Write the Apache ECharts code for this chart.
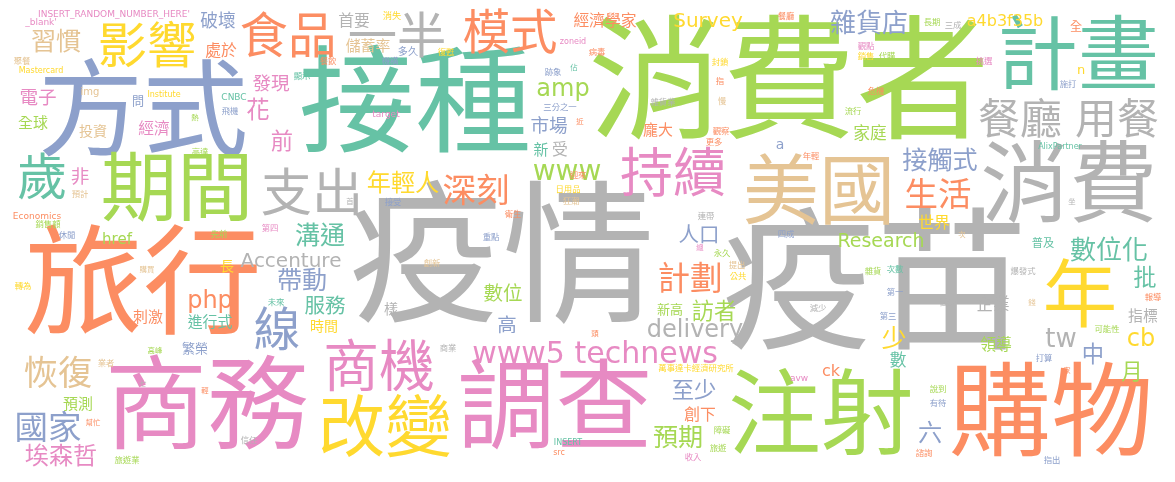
<!DOCTYPE html>
<html>
<head>
<meta charset="utf-8">
<title>詞雲</title>
<script src="https://cdn.jsdelivr.net/npm/echarts@6/dist/echarts.min.js"></script>
<style>
  html, body { margin: 0; padding: 0; background: #fff; }
  #main { width: 1175px; height: 482px; }
</style>
</head>
<body>
<div id="main"></div>
<script>
// 每一筆: [詞, 權重, x, y, 色組]  (x, y 為畫布座標軸上的位置)
var bigWords = [
    ['疫情', 165, 502, 270, 'R'],
    ['疫苗', 165, 875, 297, 'R'],
    ['消費者', 144, 789, 93, 'L'],
    ['旅行', 128, 143, 294, 'O'],
    ['接種', 125, 415, 113, 'G'],
    ['方式', 113, 143, 120, 'B'],
    ['商務', 110, 207, 414, 'P'],
    ['購物', 110, 1051, 421, 'O'],
    ['調查', 105, 555, 416, 'P'],
    ['注射', 100, 821, 423, 'L'],
    ['消費', 95, 1069, 192, 'R'],
    ['計畫', 87, 1078, 62, 'G'],
    ['美國', 82, 819, 198, 'T'],
    ['期間', 82, 177, 195, 'L'],
    ['年', 80, 1080, 302, 'Y'],
    ['改變', 72, 385, 434, 'Y'],
    ['商機', 60, 379, 372, 'P']
];

var midWords = [
    ['持續', 57, 673, 178, 'P'],
    ['支出', 55, 312, 198, 'R'],
    ['歲', 54, 42, 182, 'G'],
    ['影響', 53, 147, 50, 'Y'],
    ['一半', 53, 397, 40, 'R'],
    ['食品', 52, 288, 40, 'O'],
    ['模式', 51, 510, 37, 'O'],
    ['線', 50, 277, 334, 'B'],
    ['餐廳', 45, 1020, 123, 'R'],
    ['用餐', 45, 1117, 123, 'R'],
    ['恢復', 37, 58, 376, 'T'],
    ['深刻', 36, 476, 193, 'O'],
    ['生活', 36, 938, 197, 'O'],
    ['國家', 36, 48, 430, 'B'],
    ['計劃', 35, 690, 282, 'O'],
    ['www5 technews', 30, 595, 355, 'P'],
    ['delivery', 24, 695, 331, 'R'],
    ['雜貨店', 28, 869, 25, 'B'],
    ['數位化', 28, 1109, 252, 'G'],
    ['www', 28, 567, 173, 'L'],
    ['接觸式', 27, 940, 162, 'B'],
    ['習慣', 27, 56, 43, 'T'],
    ['溝通', 27, 320, 237, 'G'],
    ['帶動', 27, 302, 282, 'B'],
    ['預期', 27, 678, 439, 'L'],
    ['少', 27, 894, 340, 'Y'],
    ['tw', 26, 1061, 340, 'R'],
    ['年輕人', 26, 403, 185, 'Y'],
    ['埃森哲', 26, 61, 458, 'P'],
    ['六', 26, 930, 435, 'B'],
    ['花', 25, 258, 112, 'P'],
    ['批', 25, 1145, 280, 'G'],
    ['amp', 24, 563, 90, 'L'],
    ['php', 24, 210, 302, 'O'],
    ['cb', 24, 1141, 340, 'Y'],
    ['前', 24, 282, 143, 'P'],
    ['至少', 24, 694, 392, 'B'],
    ['中', 24, 1093, 356, 'B'],
    ['訪者', 24, 714, 313, 'L'],
    ['月', 23, 1132, 373, 'L'],
    ['服務', 22, 325, 308, 'G'],
    ['人口', 22, 699, 237, 'B'],
    ['數位', 21, 503, 295, 'L'],
    ['高', 21, 507, 327, 'B'],
    ['Accenture', 20, 291, 262, 'R'],
    ['Survey', 20, 708, 22, 'Y'],
    ['發現', 20, 271, 85, 'P'],
    ['電子', 20, 38, 99, 'P'],
    ['非', 20, 80, 178, 'P'],
    ['市場', 20, 549, 127, 'B'],
    ['Research', 19, 881, 242, 'L'],
    ['破壞', 19, 218, 22, 'B'],
    ['數', 18, 898, 362, 'G'],
    ['企業', 18, 993, 306, 'R'],
    ['家庭', 18, 870, 135, 'L'],
    ['世界', 17, 934, 224, 'Y'],
    ['領導', 17, 996, 346, 'L'],
    ['首要', 17, 354, 22, 'R'],
    ['處於', 17, 221, 52, 'O'],
    ['經濟', 17, 154, 130, 'P'],
    ['經濟學家', 17, 605, 22, 'O'],
    ['創下', 17, 700, 416, 'O'],
    ['受', 17, 560, 151, 'R'],
    ['儲蓄率', 16, 368, 47, 'T'],
    ['全球', 16, 33, 124, 'L'],
    ['指標', 16, 1143, 317, 'R'],
    ['龐大', 16, 658, 131, 'O'],
    ['刺激', 16, 148, 318, 'O'],
    ['進行式', 16, 210, 323, 'G'],
    ['預測', 16, 78, 405, 'L'],
    ['新', 16, 541, 151, 'G'],
    ['a4b3f35b', 16, 1005, 22, 'Y'],
    ['ck', 16, 831, 372, 'O'],
    ['投資', 15, 93, 132, 'T'],
    ['時間', 15, 324, 327, 'Y'],
    ['長', 15, 227, 267, 'Y'],
    ['樣', 15, 391, 310, 'R'],
    ['href', 15, 117, 240, 'L'],
    ['新高', 14, 670, 311, 'L'],
    ['繁榮', 14, 195, 350, 'B'],
    ['a', 14, 780, 145, 'B'],
    ['問', 13, 138, 103, 'B'],
    ['n', 13, 1081, 71, 'Y'],
    ['全', 13, 1076, 28, 'O'],
    ['普及', 12, 1043, 244, 'G'],
    ['多久', 11, 408, 52, 'B']
];

var smallWords = [
    ['INSERT_RANDOM_NUMBER_HERE\'', 9, 114, 15, 'P'],
    ['_blank\'', 9, 41, 23, 'P'],
    ['聚餐', 9, 22, 62, 'T'],
    ['Mastercard', 8, 41, 71, 'Y'],
    ['消失', 10, 392, 17, 'Y'],
    ['餐飲', 9, 328, 62, 'O'],
    ['機構', 9, 390, 62, 'B'],
    ['顯示', 9, 302, 77, 'G'],
    ['img', 10, 90, 92, 'T'],
    ['Institute', 8, 164, 95, 'Y'],
    ['CNBC', 9, 234, 98, 'G'],
    ['飛機', 9, 230, 112, 'B'],
    ['target', 9, 386, 115, 'P'],
    ['熱', 8, 195, 118, 'L'],
    ['高達', 9, 200, 153, 'L'],
    ['預計', 9, 80, 195, 'T'],
    ['Economics', 9, 37, 217, 'O'],
    ['銷售額', 9, 48, 225, 'L'],
    ['休閒', 9, 67, 236, 'B'],
    ['首', 8, 350, 202, 'R'],
    ['接受', 9, 393, 203, 'B'],
    ['第四', 9, 270, 229, 'P'],
    ['先前', 9, 219, 235, 'L'],
    ['購買', 8, 147, 270, 'T'],
    ['轉為', 9, 23, 287, 'Y'],
    ['未來', 9, 276, 303, 'G'],
    ['高峰', 8, 155, 351, 'L'],
    ['重點', 9, 491, 238, 'B'],
    ['創新', 9, 432, 264, 'T'],
    ['衛生', 9, 513, 215, 'O'],
    ['日用品', 9, 568, 190, 'Y'],
    ['狂潮', 9, 571, 202, 'T'],
    ['迎來', 9, 578, 176, 'O'],
    ['zoneid', 8, 573, 42, 'P'],
    ['復甦', 9, 446, 53, 'Y'],
    ['病毒', 9, 597, 53, 'O'],
    ['跡象', 9, 553, 73, 'B'],
    ['佔', 8, 574, 68, 'G'],
    ['三分之一', 9, 560, 108, 'B'],
    ['近', 8, 580, 122, 'O'],
    ['雜貨業', 9, 663, 103, 'R'],
    ['封鎖', 9, 720, 63, 'Y'],
    ['指', 9, 720, 82, 'O'],
    ['慢', 9, 722, 102, 'T'],
    ['觀察', 9, 721, 132, 'O'],
    ['更多', 9, 714, 143, 'O'],
    ['餐廳', 9, 786, 17, 'O'],
    ['連帶', 9, 706, 217, 'R'],
    ['四成', 9, 786, 235, 'B'],
    ['次', 8, 962, 235, 'T'],
    ['長期', 9, 932, 23, 'L'],
    ['三成', 9, 953, 26, 'R'],
    ['觀點', 9, 866, 47, 'P'],
    ['銷售', 9, 866, 57, 'Y'],
    ['代購', 9, 887, 57, 'L'],
    ['挑選', 9, 984, 62, 'P'],
    ['施打', 9, 1068, 85, 'B'],
    ['危機', 9, 876, 92, 'O'],
    ['流行', 9, 853, 112, 'L'],
    ['AlixPartner', 8, 1060, 147, 'G'],
    ['年輕', 9, 811, 157, 'O'],
    ['坐', 8, 1072, 202, 'R'],
    ['雜貨', 9, 873, 272, 'L'],
    ['次數', 9, 895, 270, 'G'],
    ['爆發式', 9, 1023, 272, 'R'],
    ['第一', 9, 895, 293, 'B'],
    ['報導', 9, 1153, 298, 'O'],
    ['變少', 9, 948, 303, 'R'],
    ['錢', 8, 1032, 303, 'T'],
    ['減少', 9, 818, 309, 'R'],
    ['第三', 9, 888, 317, 'B'],
    ['可能性', 9, 1107, 330, 'L'],
    ['永久', 9, 722, 254, 'L'],
    ['總', 8, 700, 248, 'P'],
    ['提出', 9, 737, 266, 'T'],
    ['公共', 9, 738, 277, 'Y'],
    ['頭', 8, 595, 334, 'O'],
    ['商業', 9, 448, 349, 'R'],
    ['萬事達卡經濟研究所', 9, 696, 369, 'Y'],
    ['障礙', 9, 722, 431, 'L'],
    ['旅遊', 9, 718, 449, 'L'],
    ['收入', 9, 693, 458, 'P'],
    ['INSERT', 8, 568, 443, 'G'],
    ['src', 8, 559, 453, 'O'],
    ['業者', 9, 106, 364, 'T'],
    ['七', 8, 143, 384, 'R'],
    ['輕', 8, 205, 391, 'O'],
    ['幫忙', 8, 93, 423, 'O'],
    ['信任', 9, 249, 441, 'R'],
    ['旅遊業', 9, 127, 461, 'L'],
    ['說到', 9, 938, 390, 'L'],
    ['有待', 9, 938, 404, 'B'],
    ['諮詢', 9, 924, 454, 'O'],
    ['指出', 9, 1052, 461, 'B'],
    ['打算', 9, 1044, 359, 'B'],
    ['家', 8, 1067, 371, 'O'],
    ['avw', 9, 799, 379, 'P']
];

// Set2 色盤
var palette = {
    G: '#66c2a5', O: '#fc8d62', B: '#8da0cb', P: '#e78ac3',
    L: '#a6d854', Y: '#ffd92f', T: '#e5c494', R: '#b3b3b3'
};

// 中文字形比原圖字型略高，權重換算字級時縮一點
var cjkScale = 0.93;

var chart = echarts.init(document.getElementById('main'), null, { renderer: 'canvas' });

var allWords = bigWords.concat(midWords, smallWords);
var data = allWords.map(function (w) {
    var isLatin = /^[\x00-\x7f]+$/.test(w[0]);
    return {
        name: w[0],
        value: [w[2], w[3]],
        label: {
            fontSize: Math.round(w[1] * (isLatin ? 1 : cjkScale) * 10) / 10,
            color: palette[w[4]]
        }
    };
});

var option = {
    backgroundColor: '#ffffff',
    animation: false,
    grid: { left: 0, right: 0, top: 0, bottom: 0 },
    xAxis: { type: 'value', min: 0, max: 1175, show: false },
    yAxis: { type: 'value', min: 0, max: 482, inverse: true, show: false },
    series: [{
        type: 'scatter',
        symbolSize: 1,
        itemStyle: { color: 'rgba(0,0,0,0)', opacity: 1 },
        silent: true,
        label: {
            show: true,
            position: 'inside',
            align: 'center',
            verticalAlign: 'middle',
            fontFamily: '"DejaVu Sans", "Noto Sans CJK TC", sans-serif',
            formatter: function (p) { return p.name; }
        },
        labelLayout: { hideOverlap: false },
        data: data
    }]
};

chart.setOption(option);
</script>
</body>
</html>
